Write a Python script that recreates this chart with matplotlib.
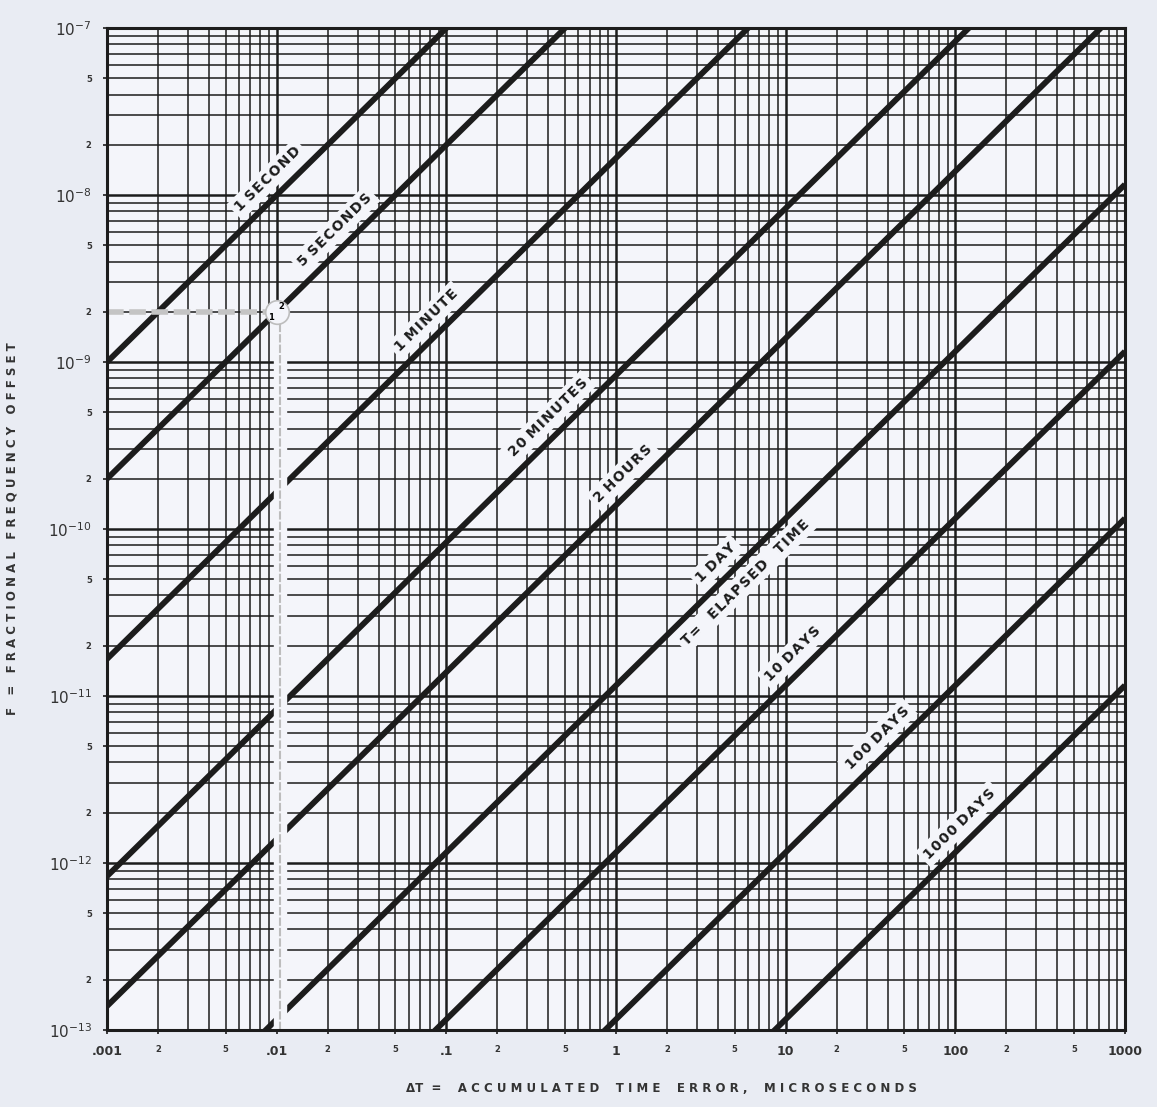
import matplotlib.pyplot as plt
import numpy as np

# elapsed time lines: F = dT * 1e-6 / T
line_labels = ["1 SECOND", "5 SECONDS", "1 MINUTE", "20 MINUTES", "2 HOURS",
               "1 DAY", "10 DAYS", "100 DAYS", "1000 DAYS"]
elapsed_seconds = [1, 5, 60, 1200, 7200, 86400, 864000, 8640000, 86400000]
# where along each line (in microseconds) the label sits
label_at_x = [0.0105, 0.026, 0.09, 0.47, 1.3, 4.6, 13.0, 41.0, 125.0]

x_decades = [0.001, 0.01, 0.1, 1, 10, 100, 1000]
x_decade_text = [".001", ".01", ".1", "1", "10", "100", "1000"]
y_decades = [1e-13, 1e-12, 1e-11, 1e-10, 1e-9, 1e-8, 1e-7]
y_decade_text = ["$10^{-13}$", "$10^{-12}$", "$10^{-11}$", "$10^{-10}$",
                 "$10^{-9}$", "$10^{-8}$", "$10^{-7}$"]

# worked example: 0.01 us error with 5 s elapsed
example_dt = 0.01
example_f = 2e-9

BG = "#e9ecf3"
PAPER = "#f4f5fa"
INK = "#1c1c1c"
GREY = "#333333"


def spaced(s, sep=" ", gap="    "):
    # letter-spaced lettering like the drafting stencil
    return gap.join(sep.join(w) for w in s.split())


fig = plt.figure(figsize=(11.57, 11.07), dpi=100, facecolor=BG)
ax = fig.add_axes([0.0925, 0.0696, 0.8798, 0.905])
ax.set_facecolor(PAPER)
ax.set_xscale("log")
ax.set_yscale("log")
ax.set_xlim(1e-3, 1e3)
ax.set_ylim(1e-13, 1e-7)

# graph paper grid
for d in x_decades[:-1]:
    for k in range(1, 10):
        ax.axvline(k * d, color=INK, lw=1.8 if k == 1 else 1.1, zorder=1)
for d in y_decades[:-1]:
    for k in range(1, 10):
        ax.axhline(k * d, color=INK, lw=1.8 if k == 1 else 1.1, zorder=1)

# elapsed time lines
xs = np.array([1e-3, 1e3])
for T in elapsed_seconds:
    ax.plot(xs, xs * 1e-6 / T, color=INK, lw=4.2, solid_capstyle="butt", zorder=8)

# white strip + grey marker for the example
frac = (np.log10(example_f * 0.9) + 13) / 6
ax.axvspan(0.0096, 0.0113, ymin=0, ymax=frac, color=PAPER, zorder=8.5)
ax.plot([0.0104, 0.0104], [1e-13, example_f * 0.9], color="#bdbdbd",
        lw=1.5, ls=(0, (4, 1)), zorder=8.6)
ax.plot([1e-3, 0.0094], [example_f, example_f], color="#c4c4c4",
        lw=4, ls=(0, (3, 1)), zorder=8.6)

# slope angle on screen
p0 = ax.transData.transform((1e-3, 1e-9))
p1 = ax.transData.transform((1e-1, 1e-7))
ang = np.degrees(np.arctan2(p1[1] - p0[1], p1[0] - p0[0]))
nx, ny = -np.sin(np.radians(ang)), np.cos(np.radians(ang))

box = dict(boxstyle="square,pad=0.3", fc=PAPER, ec="none")
off = 12.5
for name, T, lx in zip(line_labels, elapsed_seconds, label_at_x):
    ax.annotate(spaced(name, "\u200a", " "), xy=(lx, lx * 1e-6 / T),
                xytext=(nx * off, ny * off),
                textcoords="offset points", rotation=ang, rotation_mode="anchor",
                ha="center", va="center", fontsize=10, fontweight="bold",
                color=INK, bbox=box, zorder=7)
ax.annotate(spaced("T= ELAPSED TIME", "\u200a", "   "), xy=(4.9, 4.9e-6 / 86400),
            xytext=(-nx * off, -ny * off), textcoords="offset points",
            rotation=ang, rotation_mode="anchor", ha="center", va="center",
            fontsize=10, fontweight="bold", color=INK, bbox=box, zorder=7)

# example circle
ax.plot(example_dt, example_f, marker="o", ms=17, mfc=PAPER, mec="#bdbdbd",
        mew=1.2, zorder=9)
ax.annotate("2", xy=(example_dt, example_f), xytext=(3, 4), textcoords="offset points",
            fontsize=6, fontweight="bold", ha="center", va="center", zorder=10)
ax.annotate("1", xy=(example_dt, example_f), xytext=(-4, -4), textcoords="offset points",
            fontsize=6, fontweight="bold", ha="center", va="center", zorder=10)

# ticks
xt, xl = [], []
for d, t in zip(x_decades, x_decade_text):
    xt.append(d)
    xl.append(t)
    if d < 1000:
        xt += [2 * d, 5 * d]
        xl += ["2", "5"]
ax.set_xticks(xt)
ax.set_xticklabels(xl)
ax.xaxis.set_minor_locator(plt.NullLocator())
for lab, t in zip(ax.get_xticklabels(), xl):
    lab.set_fontsize(9 if t not in ("2", "5") else 6)
    lab.set_fontweight("bold")
    lab.set_color(GREY)

yt, yl = [], []
for d, t in zip(y_decades, y_decade_text):
    yt.append(d)
    yl.append(t)
    if d < 1e-7:
        yt += [2 * d, 5 * d]
        yl += ["2", "5"]
ax.set_yticks(yt)
ax.set_yticklabels(yl)
ax.yaxis.set_minor_locator(plt.NullLocator())
for lab, t in zip(ax.get_yticklabels(), yl):
    lab.set_fontsize(11 if t.startswith("$") else 6)
    lab.set_fontweight("bold")
    lab.set_color(GREY)
ax.tick_params(axis="both", length=3, width=1.2, color=INK, pad=8)

for s in ax.spines.values():
    s.set_linewidth(2.2)
    s.set_color(INK)
    s.set_zorder(11)

ax.set_xlabel("\u0394T  =    " + spaced("ACCUMULATED TIME ERROR, MICROSECONDS"),
              fontsize=8.5, fontweight="bold", color=GREY)
ax.xaxis.set_label_coords(0.545, -0.052)
ax.set_ylabel(spaced("F = FRACTIONAL FREQUENCY OFFSET", " ", "   "),
              fontsize=8.5, fontweight="bold", color=GREY)
ax.yaxis.set_label_coords(-0.087, 0.5)

fig.savefig("out.png", dpi=100, facecolor=BG)
